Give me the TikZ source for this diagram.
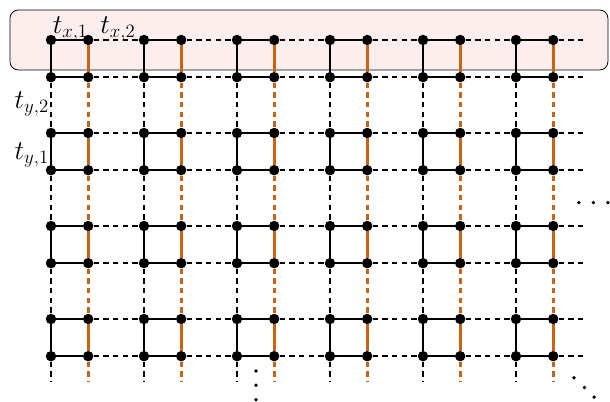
\documentclass[tikz,border=0pt]{standalone}
\definecolor{bondorange}{HTML}{C86414}
\definecolor{blush}{HTML}{FDEEEE}

\begin{document}
\begin{tikzpicture}[
    site/.style={circle, fill=black, inner sep=0pt, minimum size=2.8mm},
    bond/.style={line width=2pt},
    hop/.style={bond, dash pattern=on 4pt off 3.4pt},
    xbond/.style={bond, draw=bondorange},
    xhop/.style={hop, draw=bondorange},
    lab/.style={font=\fontsize{19.5}{23}\selectfont, inner sep=0pt},
    dot/.style={radius=0.05}
]
\useasboundingbox (-1.371,1.075) rectangle (15.027,-9.731);

% highlighted top row
\draw[line width=0.6pt, rounded corners=2.2mm, fill=blush] (-1.102,0.806) rectangle (14.97,-0.806);

% sites of each plaquette
\foreach \i in {0,...,5}
  \foreach \j in {0,...,3} {
    \node[site] (tl-\i-\j) at (2.5*\i, -2.5*\j) {};
    \node[site] (tr-\i-\j) at (2.5*\i+1, -2.5*\j) {};
    \node[site] (bl-\i-\j) at (2.5*\i, -2.5*\j-1) {};
    \node[site] (br-\i-\j) at (2.5*\i+1, -2.5*\j-1) {};
  }

% bonds inside a plaquette
\foreach \i in {0,...,5}
  \foreach \j in {0,...,3} {
    \draw[bond] (tr-\i-\j) -- (tl-\i-\j) -- (bl-\i-\j) -- (br-\i-\j);
    \draw[xbond] (tr-\i-\j) -- (br-\i-\j);
  }

% hoppings between plaquettes
\foreach \i [count=\n from 1] in {0,...,4}
  \foreach \j in {0,...,3} {
    \draw[hop] (tr-\i-\j) -- (tl-\n-\j);
    \draw[hop] (br-\i-\j) -- (bl-\n-\j);
  }
\foreach \i in {0,...,5}
  \foreach \j [count=\n from 1] in {0,...,2} {
    \draw[hop] (bl-\i-\j) -- (tl-\i-\n);
    \draw[xhop] (br-\i-\j) -- (tr-\i-\n);
  }

% open ends of the lattice
\foreach \j in {0,...,3} {
  \coordinate (et-\j) at (14.3, -2.5*\j);
  \coordinate (eb-\j) at (14.3, -2.5*\j-1);
  \draw[hop] (tr-5-\j) -- (et-\j);
  \draw[hop] (br-5-\j) -- (eb-\j);
}
\foreach \i in {0,...,5} {
  \coordinate (dl-\i) at (2.5*\i, -9.17);
  \coordinate (dr-\i) at (2.5*\i+1, -9.17);
  \draw[hop] (bl-\i-3) -- (dl-\i);
  \draw[xhop] (br-\i-3) -- (dr-\i);
}

% labels
\node[lab, anchor=base west] (tx1) at (0.04, 0.17) {$t_{x,1}$};
\node[lab, anchor=base west] (tx2) at (1.32, 0.18) {$t_{x,2}$};
\node[lab, anchor=base east] (ty2) at (-0.05, -1.84) {$t_{y,2}$};
\node[lab, anchor=base east] (ty1) at (-0.05, -3.21) {$t_{y,1}$};

% ellipses
\foreach \x in {14.19, 14.58, 14.97} \fill[dot] (\x, -4.37) circle;
\foreach \y in {-8.90, -9.28, -9.67} \fill[dot] (5.51, \y) circle;
\fill[dot] (14.06, -9.08) circle (0.05) (14.34, -9.34) circle (0.05) (14.60, -9.60) circle (0.05);

\end{tikzpicture}
\end{document}
